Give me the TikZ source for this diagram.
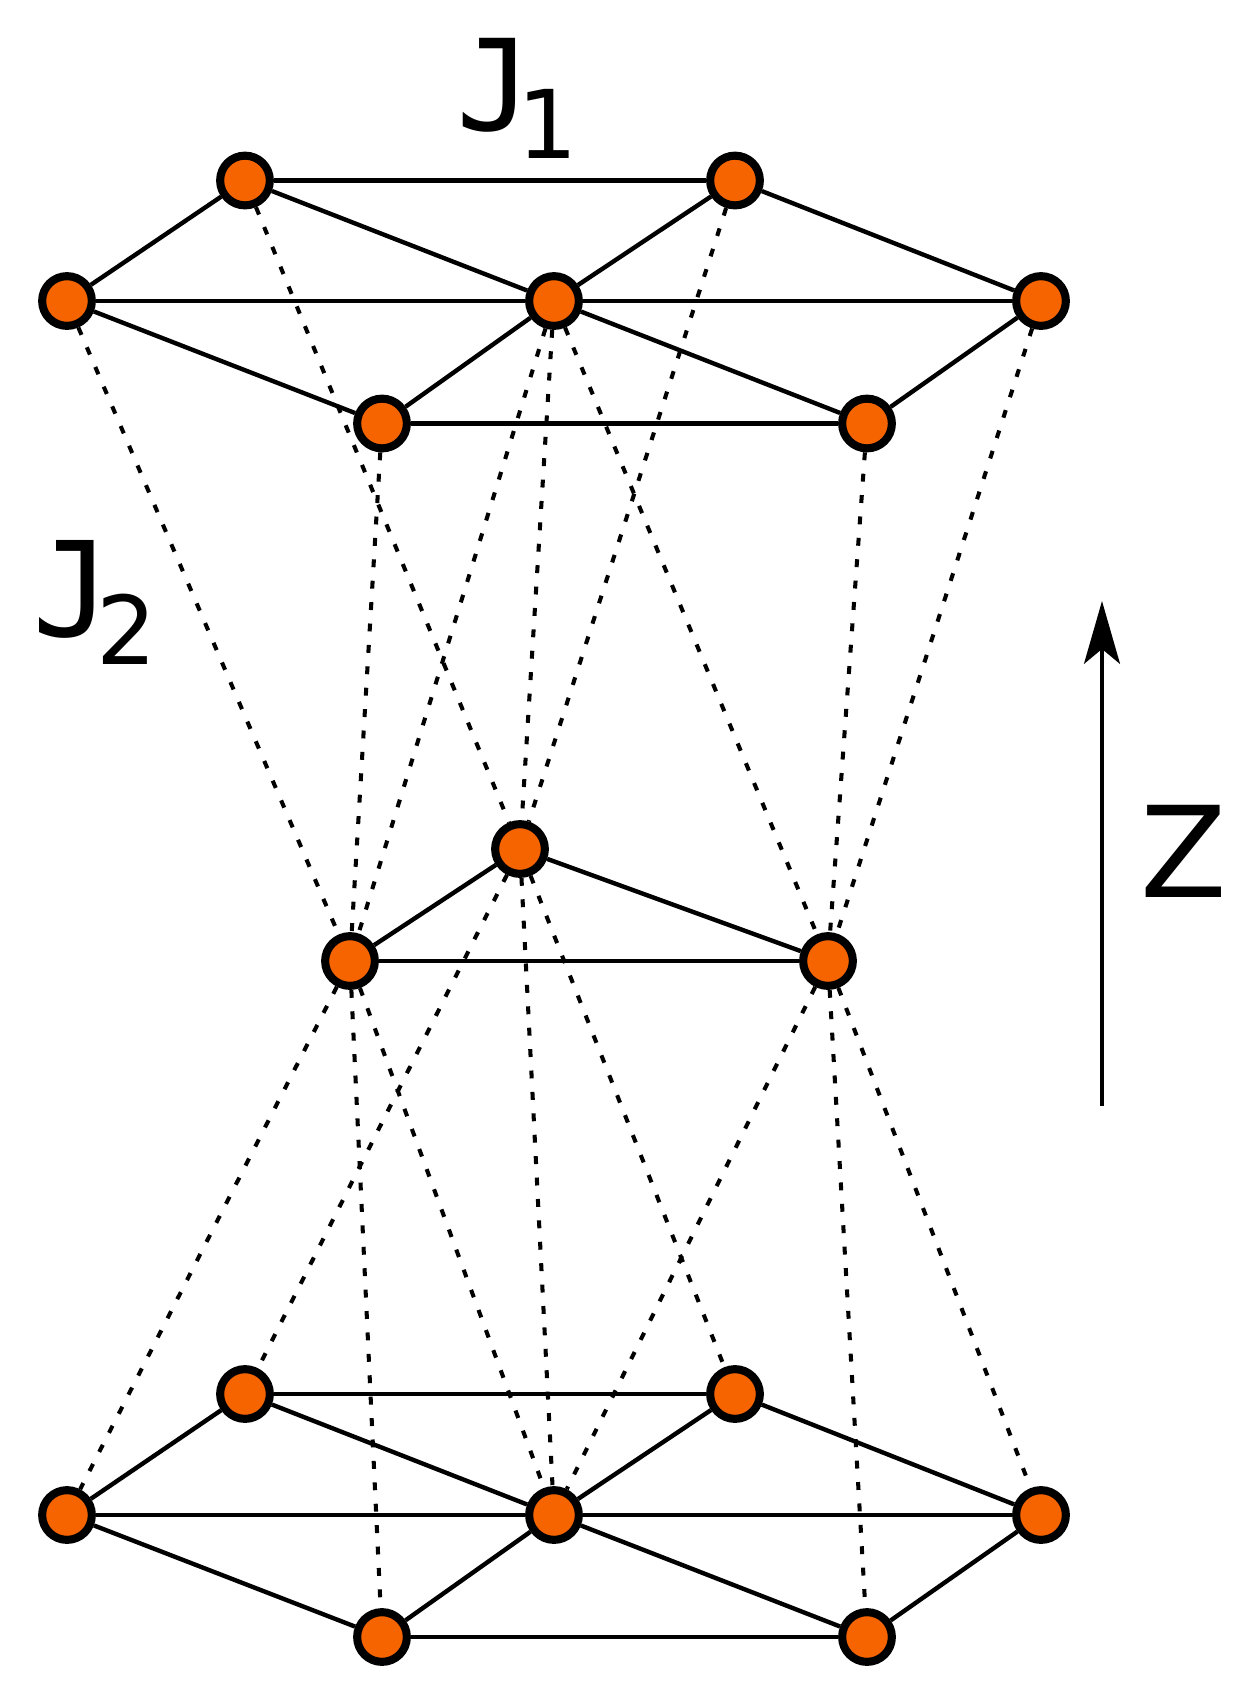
\documentclass[tikz,border=0pt]{standalone}
\usepackage{fontspec}
\setmainfont{DejaVu Sans}
\newfontfamily\exchfont{DejaVu Sans Mono}
\usetikzlibrary{arrows.meta}
\definecolor{siteorange}{RGB}{246,100,0}
\newcommand{\exch}[2]{{\fontsize{#1}{#1}\exchfont J\kern-8.5pt\lower16pt\hbox{\fontsize{54}{54}\selectfont\rmfamily #2}}}
\tikzset{
    site/.style={circle, draw=black, fill=siteorange, line width=4.6pt, minimum size=28.3pt, inner sep=0pt},
    bond/.style={draw=black, line width=2.5pt},
    coupling/.style={draw=black, line width=2.3pt, dash pattern=on 4.5pt off 7.7pt},
    axis/.style={draw=black, line width=2.5pt, -{Stealth[length=35.7pt, width=20.4pt, inset=8.4pt]}},
    lbl/.style={inner sep=0pt, anchor=base west}
}
\begin{document}
\begin{tikzpicture}[x=0.02cm, y=-0.02cm]
    \useasboundingbox (0,0) rectangle (1256,1695);

    \node[site] (a) at (245,180.5) {};
    \node[site] (b) at (735,180.5) {};
    \node[site] (c) at (67,301) {};
    \node[site] (d) at (554,301) {};
    \node[site] (e) at (1041,301) {};
    \node[site] (f) at (382,423.5) {};
    \node[site] (g) at (867,423.5) {};

    \node[site] (h) at (520,849) {};
    \node[site] (i) at (350,961) {};
    \node[site] (j) at (828,961) {};

    \node[site] (k) at (245,1394) {};
    \node[site] (l) at (735,1394) {};
    \node[site] (m) at (67,1515) {};
    \node[site] (n) at (554,1515) {};
    \node[site] (o) at (1041,1515) {};
    \node[site] (p) at (382,1637) {};
    \node[site] (q) at (867,1637) {};

    \draw[bond] (a) -- (b);
    \draw[bond] (a) -- (c);
    \draw[bond] (a) -- (d);
    \draw[bond] (b) -- (d);
    \draw[bond] (b) -- (e);
    \draw[bond] (c) -- (d);
    \draw[bond] (c) -- (f);
    \draw[bond] (d) -- (e);
    \draw[bond] (d) -- (f);
    \draw[bond] (d) -- (g);
    \draw[bond] (e) -- (g);
    \draw[bond] (f) -- (g);

    \draw[bond] (h) -- (i);
    \draw[bond] (h) -- (j);
    \draw[bond] (i) -- (j);

    \draw[bond] (k) -- (l);
    \draw[bond] (k) -- (m);
    \draw[bond] (k) -- (n);
    \draw[bond] (l) -- (n);
    \draw[bond] (l) -- (o);
    \draw[bond] (m) -- (n);
    \draw[bond] (m) -- (p);
    \draw[bond] (n) -- (o);
    \draw[bond] (n) -- (p);
    \draw[bond] (n) -- (q);
    \draw[bond] (o) -- (q);
    \draw[bond] (p) -- (q);

    \draw[coupling] (c) -- (i);
    \draw[coupling] (f) -- (i);
    \draw[coupling] (d) -- (i);
    \draw[coupling] (a) -- (h);
    \draw[coupling] (b) -- (h);
    \draw[coupling] (d) -- (h);
    \draw[coupling] (d) -- (j);
    \draw[coupling] (g) -- (j);
    \draw[coupling] (e) -- (j);

    \draw[coupling] (i) -- (m);
    \draw[coupling] (i) -- (p);
    \draw[coupling] (i) -- (n);
    \draw[coupling] (h) -- (k);
    \draw[coupling] (h) -- (n);
    \draw[coupling] (h) -- (l);
    \draw[coupling] (j) -- (n);
    \draw[coupling] (j) -- (q);
    \draw[coupling] (j) -- (o);

    \coordinate (zbottom) at (1102,1106);
    \coordinate (ztop) at (1102,601);
    \draw[axis] (zbottom) -- (ztop);

    \node[lbl] (jone) at (456,130) {\exch{72}{1}};
    \node[lbl] (jtwo) at (32,636) {\exch{75}{2}};
    \node[inner sep=0pt] (zlabel) at (1184,851) {\fontsize{72}{72}\selectfont Z};
\end{tikzpicture}
\end{document}
